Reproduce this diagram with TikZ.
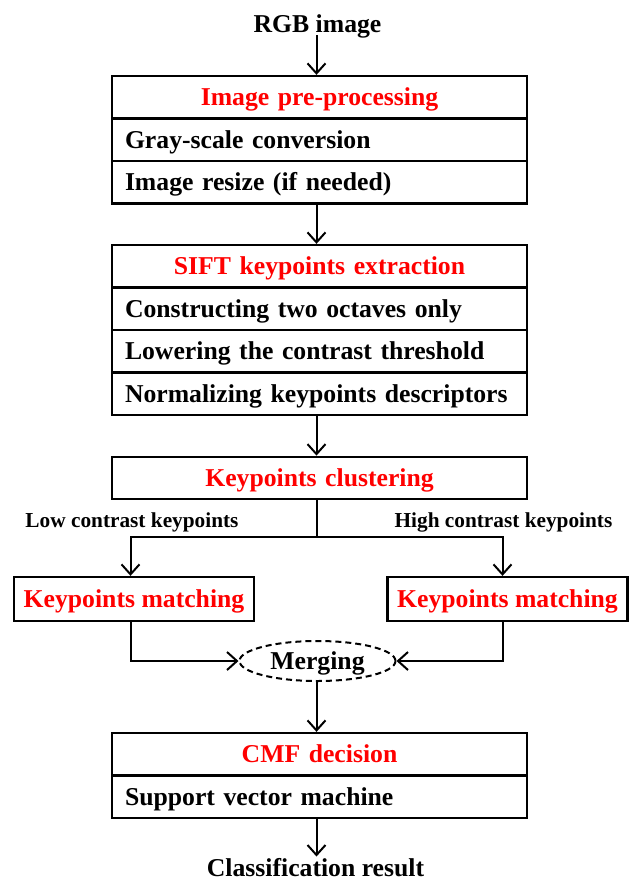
\documentclass[tikz,border=0pt]{standalone}
\usepackage{fontspec}
\setmainfont{Liberation Serif}
\usetikzlibrary{arrows.meta,shapes.geometric}
\begin{document}
\begin{tikzpicture}[x=1pt,y=-1pt,
  txt/.style={font=\fontsize{25.7}{30}\selectfont\bfseries, text height=17pt, text depth=0pt, inner sep=0pt},
  endtxt/.style={txt, outer sep=3pt},
  lbl/.style={font=\fontsize{21.3}{25}\selectfont\bfseries, text height=14.1pt, text depth=0pt, inner sep=0pt},
  row/.style={txt, draw, line width=2.3pt, minimum width=415pt, minimum height=42.5pt, text width=389pt, align=left, inner xsep=13pt},
  head/.style={row, align=center, text=red},
  kmbox/.style={txt, draw, line width=2.3pt, minimum width=240pt, minimum height=44pt, text=red},
  mergebox/.style={txt, draw, ellipse, line width=2pt, dash pattern=on 6pt off 4pt, minimum width=156pt, minimum height=40pt},
  arr/.style={line width=2pt, -{Straight Barb[length=10pt,width=18pt,line width=2pt]}},
  conn/.style={line width=2pt}
]
\useasboundingbox (0,0) rectangle (631,881);
\coordinate (spine) at (316.5,0);

\node[endtxt] (rgb) at (317.5,23.5) {RGB image};

\node[head] (pre1) at (319.5,97.25) {Image pre-processing};
\node[row]  (pre2) at (319.5,139.75) {Gray-scale conversion};
\node[row]  (pre3) at (319.5,182.25) {Image resize (if needed)};

\node[head] (sift1) at (319.5,266.25) {SIFT keypoints extraction};
\node[row]  (sift2) at (319.5,308.75) {Constructing two octaves only};
\node[row]  (sift3) at (319.5,351.25) {Lowering the contrast threshold};
\node[row]  (sift4) at (319.5,393.75) {Normalizing keypoints descriptors};

\node[head] (clus) at (319.5,478) {Keypoints clustering};

\coordinate (split) at (317,537);
\coordinate (sl) at (130.5,537);
\coordinate (sr) at (502.5,537);

\node[lbl] (lowl) at (132,520.7) {Low contrast keypoints};
\node[lbl] (highl) at (503.5,520.7) {High contrast keypoints};

\node[kmbox] (kmL) at (134,599) {Keypoints matching};
\node[kmbox] (kmR) at (507.5,599) {Keypoints matching};

\node[mergebox] (merge) at (317.5,661) {Merging};

\node[head] (cmf1) at (319.5,754.25) {CMF decision};
\node[row]  (cmf2) at (319.5,796.75) {Support vector machine};

\node[endtxt] (result) at (315.5,868) {Classification result};

\draw[arr] (rgb.south -| spine) -- (pre1.north -| spine);
\draw[arr] (pre3.south -| spine) -- (sift1.north -| spine);
\draw[arr] (sift4.south -| spine) -- (clus.north -| spine);
\draw[conn] (clus.south -| split) -- (split);
\draw[arr] (split) -- (sl) -- (kmL.north -| sl);
\draw[arr] (split) -- (sr) -- (kmR.north -| sr);
\draw[arr] (kmL.south -| sl) |- (merge.west);
\draw[arr] (kmR.south -| sr) |- (merge.east);
\draw[arr] (merge.south -| spine) -- (cmf1.north -| spine);
\draw[arr] (cmf2.south -| spine) -- (result.north -| spine);
\end{tikzpicture}
\end{document}
